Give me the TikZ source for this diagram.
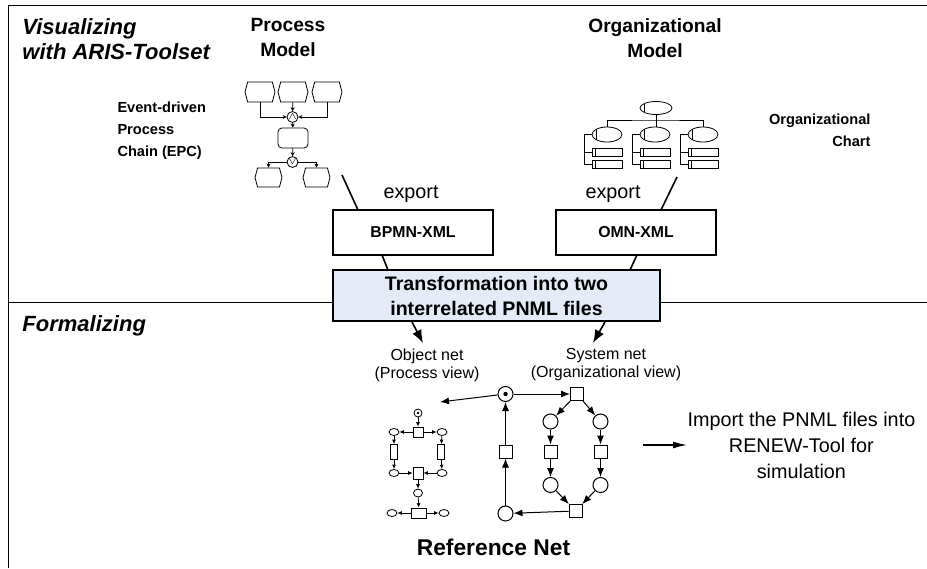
\documentclass[tikz,border=0pt]{standalone}
\usepackage{fontspec}
\setmainfont{Liberation Sans}
\usetikzlibrary{positioning,arrows.meta,shapes.misc,shapes.geometric,shapes.symbols}
\definecolor{transblue}{RGB}{228,234,246}

\begin{document}
\begin{tikzpicture}[x=0.5pt,y=-0.5pt,line width=0.5pt,
    ttl/.style={font=\fontsize{11}{12.5}\selectfont\bfseries\itshape,align=left,inner sep=0pt},
    hdr/.style={font=\fontsize{9.6}{12.5}\selectfont\bfseries,align=center,inner sep=0pt},
    note/.style={font=\fontsize{7.3}{11}\selectfont\bfseries,inner sep=0pt},
    plain/.style={font=\fontsize{9.9}{13}\selectfont,inner sep=0pt},
    small/.style={font=\fontsize{8}{9}\selectfont,align=center,inner sep=0pt},
    xmlbox/.style={rectangle,draw,line width=0.9pt,minimum width=80pt,
                   minimum height=22.5pt,font=\fontsize{7.9}{9}\selectfont\bfseries},
    transbox/.style={rectangle,draw,line width=0.9pt,fill=transblue,
                     minimum width=163.5pt,minimum height=25.5pt,align=center,
                     inner sep=0pt,font=\fontsize{9.8}{12.5}\selectfont\bfseries},
    evt/.style={signal,signal to=west and east,signal pointer angle=150,
                draw,line width=0.4pt,inner sep=0pt,
                minimum width=15pt,minimum height=10pt},
    fun/.style={rectangle,rounded corners=2pt,draw,line width=0.4pt,
                minimum width=15pt,minimum height=10pt},
    conn/.style={circle,draw,line width=0.4pt,inner sep=0pt,minimum size=4.5pt,
                 font=\fontsize{4}{4}\selectfont},
    ounit/.style={ellipse,draw,line width=0.4pt,inner sep=0pt,minimum width=15pt,
                  minimum height=7.5pt,
                  path picture={\draw ([xshift=2pt]path picture bounding box.north west)
                                  -- ([xshift=2pt]path picture bounding box.south west);}},
    opos/.style={rectangle,draw,line width=0.4pt,inner sep=0pt,minimum width=15pt,
                 minimum height=4pt,
                 path picture={\draw ([xshift=1.5pt]path picture bounding box.north west)
                                 -- ([xshift=1.5pt]path picture bounding box.south west);}},
    plc/.style={circle,draw,inner sep=0pt,minimum size=7.5pt},
    trn/.style={rectangle,draw,inner sep=0pt,minimum size=6.5pt},
    tokplc/.style={plc,path picture={\fill (path picture bounding box.center) circle (1.1pt);}},
    splc/.style={ellipse,draw,line width=0.4pt,inner sep=0pt,minimum width=5pt,minimum height=3.5pt},
    strn/.style={rectangle,draw,line width=0.4pt,inner sep=0pt,minimum width=5pt,minimum height=5pt},
    epcarr/.style={-{Stealth[length=2pt,width=2pt]},line width=0.4pt},
    netarr/.style={-{Latex[length=4.5pt,width=3.5pt]}},
    snetarr/.style={-{Latex[length=2.2pt,width=2pt]},line width=0.4pt},
    bigarr/.style={-{Latex[length=6.5pt,width=5pt]},line width=0.8pt},
    imparr/.style={-{Latex[length=7pt,width=3.5pt]},line width=0.6pt}]
\useasboundingbox (0,0) rectangle (927,568);

% frame and divider
\draw (8,568) -- (8,5) -- (927,5);
\draw (8,302) -- (927,302);

% section titles
\node[ttl,anchor=north west] (vis) at (22,18) {Visualizing\\with ARIS-Toolset};
\node[ttl,anchor=north west] (form) at (22,315) {Formalizing};
\node[hdr,anchor=north] (pmodel) at (288,18) {Process\\Model};
\node[hdr,anchor=north] (omodel) at (655,18) {Organizational\\Model};
\node[note,anchor=north west,align=left] (epclbl) at (117,101) {Event-driven\\Process\\Chain (EPC)};
\node[note,anchor=north east,align=right] (orglbl) at (871,113) {Organizational\\Chart};

% EPC
\node[evt] (e1) at (260,92) {};
\node[evt] (e2) at (293,92) {};
\node[evt] (e3) at (327,92) {};
\node[conn] (and) at (292.5,117) {$\wedge$};
\node[fun] (fn) at (293,138) {};
\node[conn] (or) at (292.5,162) {$\vee$};
\node[evt,minimum width=13.5pt,minimum height=9.5pt] (e4) at (268.5,177.5) {};
\node[evt,minimum width=13.5pt,minimum height=9.5pt] (e5) at (316.5,177.5) {};
\draw[epcarr] (e1.south) |- (and.west);
\draw[epcarr] (e3.south) |- (and.east);
\draw[epcarr] (e2) -- (and);
\draw[epcarr] (and) -- (fn);
\draw[epcarr] (fn) -- (or);
\draw[epcarr] (or.west) -| (e4.north);
\draw[epcarr] (or.east) -| (e5.north);

% organizational chart
\node[ounit,minimum width=16pt,minimum height=6.5pt] (boss) at (656,108) {};
\foreach \i/\x in {1/607,2/655,3/703}{
  \node[ounit] (ou\i) at (\x,134.5) {};
  \node[opos] (pa\i) at (\x,152.5) {};
  \node[opos] (pb\i) at (\x,164.5) {};
  \draw[line width=0.4pt] (ou\i.west) -- ++(-7,0) |- (pb\i.west);
  \draw[line width=0.4pt] (pa\i.west) -- ++(-7,0);
}
\coordinate (bar) at (656,120);
\draw[line width=0.4pt] (ou1.north) |- (bar) -| (ou3.north);
\draw[line width=0.4pt] (boss.south) -- (boss.south |- ou2.north);

% export to XML
\node[plain,anchor=base west] (exp1) at (383,198) {export};
\node[plain,anchor=base west] (exp2) at (585,198) {export};
\node[xmlbox] (bpmn) at (413,232.5) {BPMN-XML};
\node[xmlbox] (omn) at (636,232.5) {OMN-XML};
\coordinate (epcout) at (342,175);
\coordinate (bpmnin) at (358,210);
\coordinate (orgout) at (677,177);
\coordinate (omnin) at (661,210);
\draw[line width=0.8pt] (epcout) -- (bpmnin);
\draw[line width=0.8pt] (orgout) -- (omnin);

% transformation
\node[transbox] (trans) at (496.5,295.5) {Transformation into two\\interrelated PNML files};
\coordinate (bpmnout) at (382,255);
\coordinate (transinl) at (388,270);
\coordinate (omnout) at (637,255);
\coordinate (transinr) at (630,270);
\draw[line width=0.8pt] (bpmnout) -- (transinl);
\draw[line width=0.8pt] (omnout) -- (transinr);
\coordinate (transoutl) at (412,322);
\coordinate (objin) at (423,343);
\coordinate (transoutr) at (605,322);
\coordinate (sysin) at (593,343);
\draw[bigarr] (transoutl) -- (objin);
\draw[bigarr] (transoutr) -- (sysin);
\node[small,anchor=north] (objlbl) at (427,348) {Object net\\(Process view)};
\node[small,anchor=north] (syslbl) at (606,348) {System net\\(Organizational view)};

% object net
\node[splc,minimum width=4pt,minimum height=4pt,
      path picture={\fill (path picture bounding box.center) circle (0.7pt);}] (o0) at (418,413) {};
\node[strn] (ot1) at (418,432) {};
\node[splc] (opl) at (394,432) {};
\node[splc] (opr) at (442,432) {};
\node[strn,minimum width=3.5pt,minimum height=7.5pt] (otl) at (394,452) {};
\node[strn,minimum width=3.5pt,minimum height=7.5pt] (otr) at (441,452) {};
\node[splc] (opl2) at (394,473) {};
\node[splc] (opr2) at (442,473) {};
\node[strn,minimum height=6pt] (ot2) at (418,473) {};
\node[splc,minimum width=4.5pt,minimum height=4pt] (op3) at (418,493) {};
\node[strn,minimum width=7.5pt] (ot3) at (419,513) {};
\node[splc] (op4l) at (392,513) {};
\node[splc] (op4r) at (444,513) {};
\draw[snetarr] (o0) -- (ot1);
\draw[snetarr] (ot1) -- (opl);
\draw[snetarr] (ot1) -- (opr);
\draw[snetarr] (opl) -- (otl);
\draw[snetarr] (opr) -- (otr);
\draw[snetarr] (otl) -- (opl2);
\draw[snetarr] (otr) -- (opr2);
\draw[snetarr] (opl2) -- (ot2);
\draw[snetarr] (opr2) -- (ot2);
\draw[snetarr] (ot2) -- (op3);
\draw[snetarr] (op3) -- (ot3);
\draw[snetarr] (ot3) -- (op4l);
\draw[snetarr] (ot3) -- (op4r);

% system net
\node[tokplc] (tok) at (505.5,394) {};
\node[trn] (ts) at (577,394) {};
\node[plc] (a1) at (550.5,421.5) {};
\node[plc] (a2) at (600.5,421.5) {};
\node[trn] (b1) at (550.5,451.5) {};
\node[trn] (b2) at (600.5,451.5) {};
\node[plc] (c1) at (550.5,485) {};
\node[plc] (c2) at (600.5,485) {};
\node[trn] (tj) at (575.5,511) {};
\node[plc] (pb) at (505.5,513.5) {};
\node[trn] (tu) at (505.5,451.5) {};
\coordinate (objtarget) at (440,402);
\draw[netarr] (tok) -- (objtarget);
\draw[netarr] (tok) -- (ts);
\draw[netarr] (ts) -- (a1);
\draw[netarr] (ts) -- (a2);
\draw[netarr] (a1) -- (b1);
\draw[netarr] (a2) -- (b2);
\draw[netarr] (b1) -- (c1);
\draw[netarr] (b2) -- (c2);
\draw[netarr] (c1) -- (tj);
\draw[netarr] (c2) -- (tj);
\draw[netarr] (tj) -- (pb);
\draw[netarr] (pb) -- (tu);
\draw[netarr] (tu) -- (tok);

\node[font=\fontsize{11.4}{13}\selectfont\bfseries,inner sep=0pt,anchor=north] (refnet) at (493.5,538) {Reference Net};

% import into RENEW
\node[plain,align=center,anchor=west] (import) at (687,445) {Import the PNML files into\\RENEW-Tool for\\simulation};
\coordinate (impfrom) at (643,445);
\draw[imparr] (impfrom) -- (impfrom -| import.west);
\end{tikzpicture}
\end{document}
